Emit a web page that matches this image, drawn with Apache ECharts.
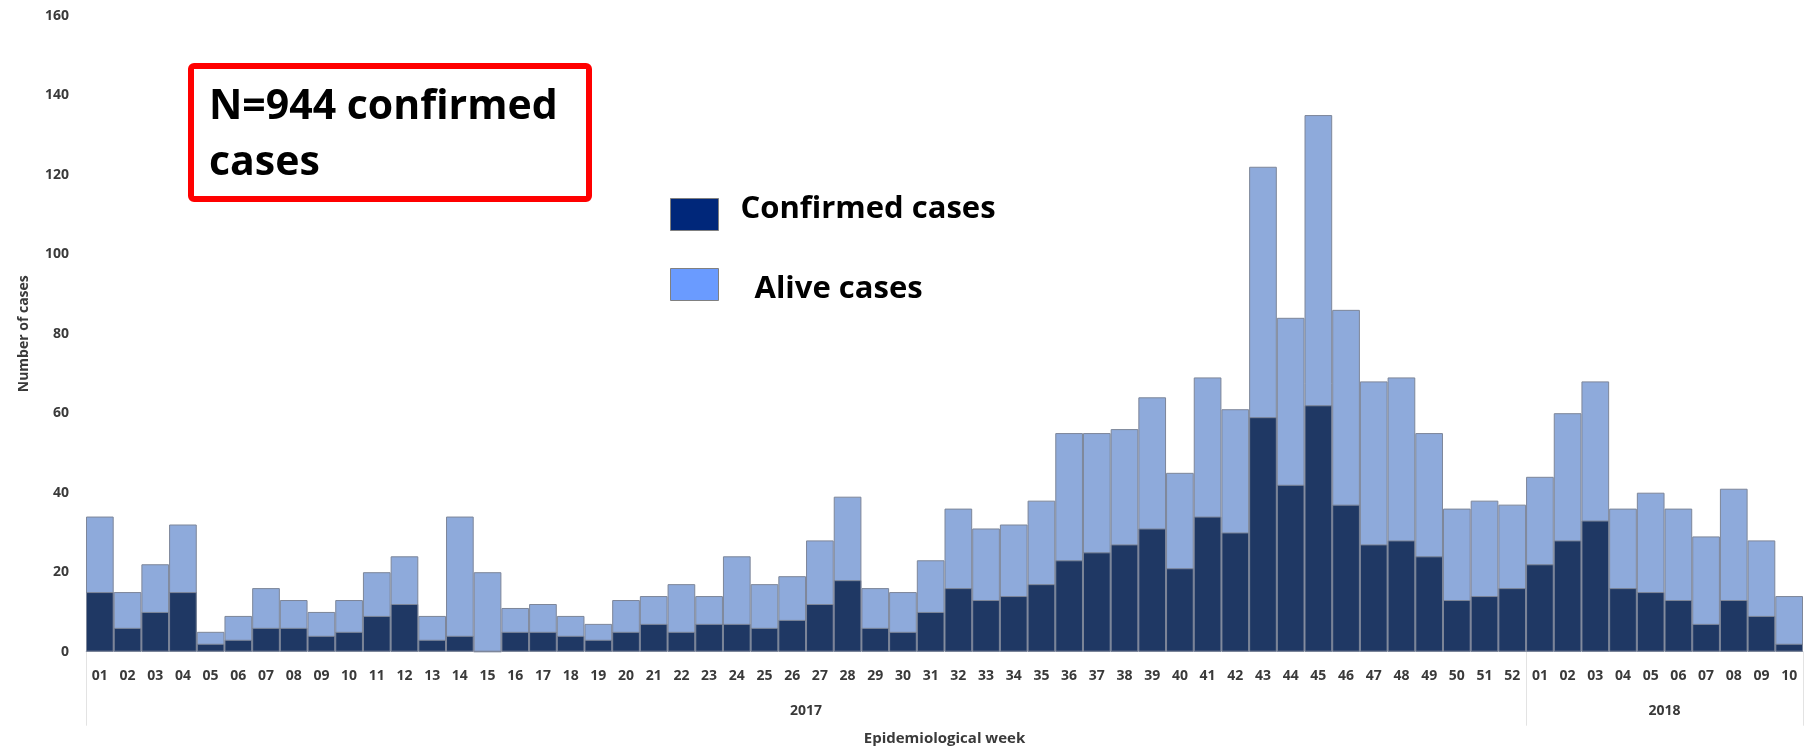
<!DOCTYPE html>
<html>
<head>
<meta charset="utf-8">
<title>Confirmed cases by epidemiological week</title>
<script src="https://cdn.jsdelivr.net/npm/echarts@6/dist/echarts.min.js"></script>
<style>
	html, body { margin: 0; padding: 0; background: #fff; }
	#chart { width: 1810px; height: 752px; }
</style>
</head>
<body>
<div id="chart"></div>
<script>
// week labels per year
const weeks2017 = ['01','02','03','04','05','06','07','08','09','10','11','12','13','14','15','16','17','18','19','20',
	'21','22','23','24','25','26','27','28','29','30','31','32','33','34','35','36','37','38','39','40',
	'41','42','43','44','45','46','47','48','49','50','51','52'];
const weeks2018 = ['01','02','03','04','05','06','07','08','09','10'];

// confirmed cases (dark bars)
const confirmed2017 = [15,6,10,15,2,3,6,6,4,5, 9,12,3,4,0,5,5,4,3,5, 7,5,7,7,6,8,12,18,6,5,
	10,16,13,14,17,23,25,27,31,21, 34,30,59,42,62,37,27,28,24,13,14,16];
const confirmed2018 = [22,28,33,16,15,13,7,13,9,2];

// bar top (light bars, full height)
const alive2017 = [34,15,22,32,5,9,16,13,10,13, 20,24,9,34,20,11,12,9,7,13, 14,17,14,24,17,19,28,39,16,15,
	23,36,31,32,38,55,55,56,64,45, 69,61,122,84,135,86,68,69,55,36,38,37];
const alive2018 = [44,60,68,36,40,36,29,41,28,14];

const yearLabels = ['2017', '2018'];
const yTicks = [0, 20, 40, 60, 80, 100, 120, 140, 160];

const categories = weeks2017.map(w => `2017-${w}`).concat(weeks2018.map(w => `2018-${w}`));
const confirmed = confirmed2017.concat(confirmed2018);
const alive = alive2017.concat(alive2018);
const totalConfirmed = confirmed.reduce((a, b) => a + b, 0);

const colors = {
	dark: '#1f3864',
	light: '#8eaadb',
	border: '#7d8699',
	legendDark: '#00277a',
	legendLight: '#6a9bff',
	text: '#3a3a3a'
};
const font = '"Open Sans", sans-serif';

const chart = echarts.init(document.getElementById('chart'));

// year boundaries / centres on a 0..62 value axis
const n2017 = weeks2017.length;
const nAll = categories.length;

chart.setOption({
	animation: false,
	textStyle: { fontFamily: font },
	grid: { left: 86, right: 7, top: 15.7, bottom: 100.3 },
	legend: {
		orient: 'vertical',
		left: 670,
		top: 194,
		padding: 0,
		icon: 'rect',
		itemWidth: 48,
		itemHeight: 32,
		itemGap: 37,
		selectedMode: false,
		// legend text sits a bit off the swatch centre in the original
		formatter: name => (name === 'Alive cases' ? `{low|${name}}` : `{high|${name}}`),
		textStyle: {
			fontFamily: font, fontSize: 31, fontWeight: 'bold', color: '#000',
			rich: {
				high: { fontFamily: font, fontSize: 31, fontWeight: 'bold', color: '#000', padding: [0, 0, 10, 17] },
				low: { fontFamily: font, fontSize: 31, fontWeight: 'bold', color: '#000', padding: [10, 0, 0, 31] }
			}
		},
		data: [
			{
				name: 'Confirmed cases',
				itemStyle: { color: colors.legendDark, borderColor: '#808080', borderWidth: 1 }
			},
			{
				name: 'Alive cases',
				itemStyle: { color: colors.legendLight, borderColor: '#808080', borderWidth: 1 }
			}
		]
	},
	xAxis: [
		{
			type: 'category',
			data: categories,
			boundaryGap: true,
			axisLine: { lineStyle: { color: '#d5d9e0', width: 1 } },
			axisTick: { show: false },
			axisLabel: {
				interval: 0,
				margin: 17,
				fontSize: 14,
				fontWeight: 'bold',
				color: colors.text,
				formatter: v => v.slice(5)
			},
			name: 'Epidemiological week',
			nameLocation: 'middle',
			nameGap: 80,
			nameTextStyle: { fontSize: 15, fontWeight: 'bold', color: colors.text }
		},
		{
			// year grouping row
			type: 'value',
			position: 'bottom',
			min: 0,
			max: nAll,
			axisLine: { show: false },
			splitLine: { show: false },
			axisTick: {
				show: true,
				customValues: [0, n2017, nAll],
				length: 74,
				lineStyle: { color: '#e3e3e3', width: 1 }
			},
			axisLabel: {
				customValues: [n2017 / 2, n2017 + (nAll - n2017) / 2],
				margin: 52,
				fontSize: 14,
				fontWeight: 'bold',
				color: colors.text,
				formatter: v => (v < n2017 ? yearLabels[0] : yearLabels[1])
			}
		}
	],
	yAxis: {
		type: 'value',
		min: yTicks[0],
		max: yTicks[yTicks.length - 1],
		interval: 20,
		axisLine: { show: false },
		axisTick: { show: false },
		splitLine: { show: false },
		axisLabel: { margin: 17, fontSize: 14, fontWeight: 'bold', color: colors.text },
		name: 'Number of cases',
		nameLocation: 'middle',
		nameRotate: 90,
		nameGap: 55,
		nameTextStyle: { fontSize: 14, fontWeight: 'bold', color: colors.text }
	},
	series: [
		{
			name: 'Alive cases',
			type: 'bar',
			xAxisIndex: 0,
			data: alive,
			barCategoryGap: 0,
			barGap: '-100%',
			itemStyle: { color: colors.light, borderColor: colors.border, borderWidth: 1 }
		},
		{
			name: 'Confirmed cases',
			type: 'bar',
			xAxisIndex: 0,
			data: confirmed,
			barCategoryGap: 0,
			barGap: '-100%',
			itemStyle: { color: colors.dark, borderColor: colors.border, borderWidth: 1 }
		}
	],
	graphic: [
		{
			type: 'rect',
			left: 188,
			top: 63,
			shape: { width: 398, height: 133, r: 3 },
			style: { fill: 'none', stroke: '#ff0000', lineWidth: 6 }
		},
		{
			type: 'text',
			left: 209,
			top: 79,
			style: {
				text: `N=${totalConfirmed} confirmed\ncases`,
				fontFamily: font,
				fontSize: 41,
				fontWeight: 'bold',
				lineHeight: 56,
				fill: '#000'
			}
		}
	]
});
</script>
</body>
</html>
